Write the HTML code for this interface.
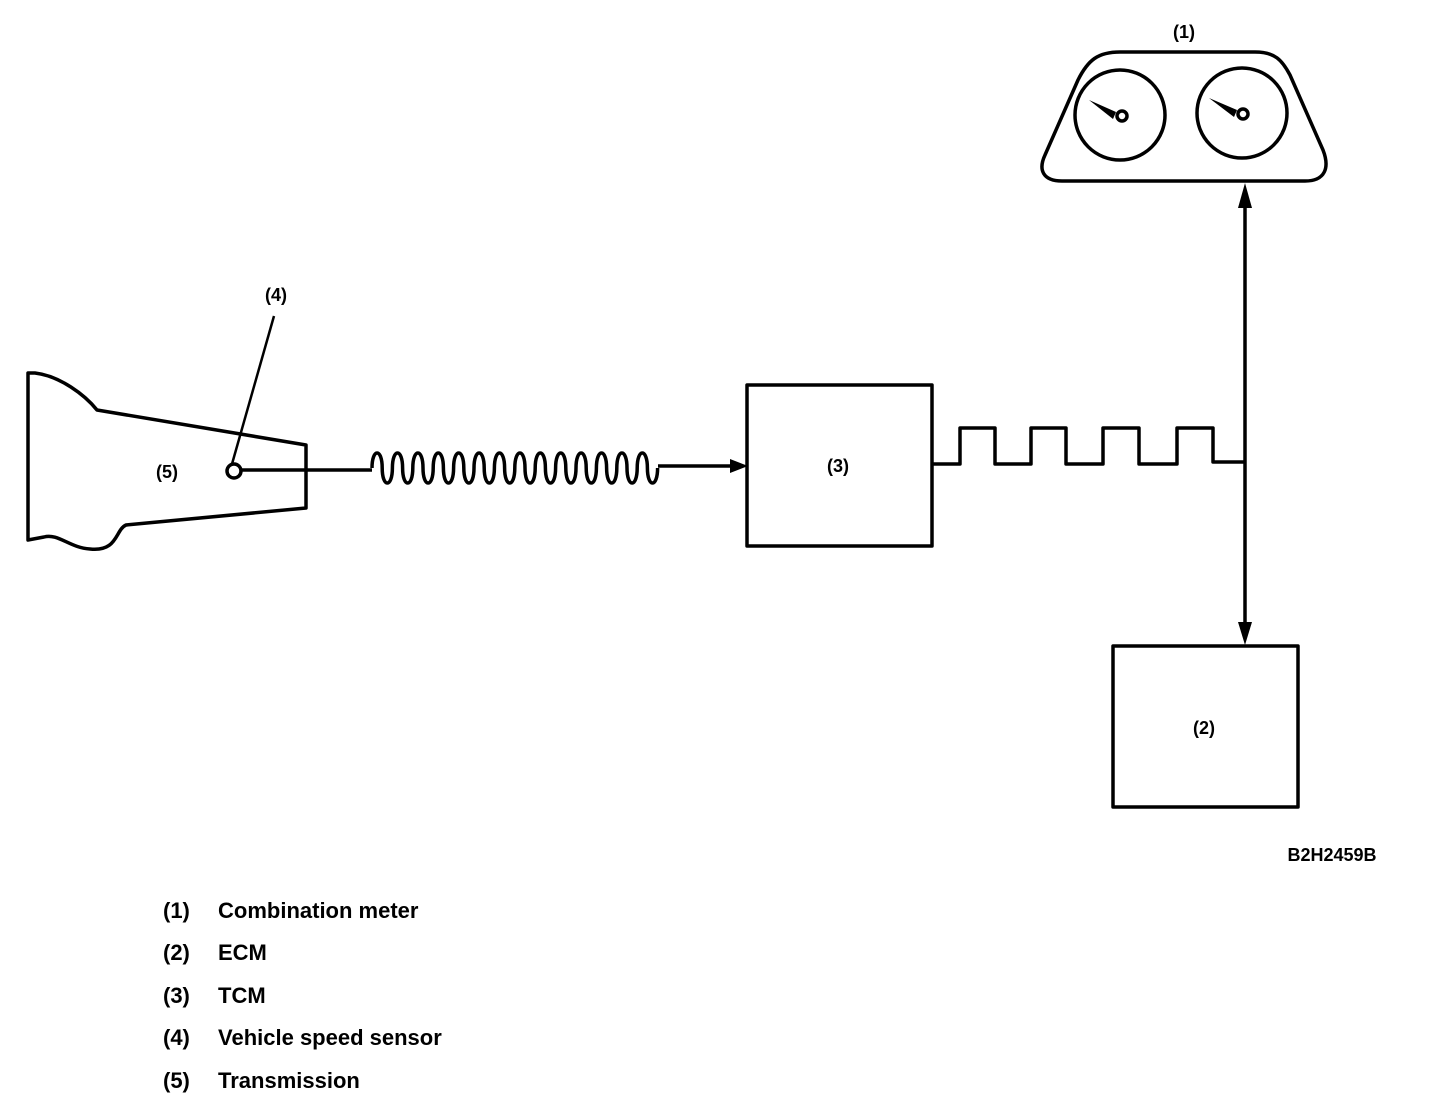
<!DOCTYPE html>
<html><head><meta charset="utf-8"><style>
html,body{margin:0;padding:0;background:#fff}
svg{display:block}
text{font-family:"Liberation Sans",Arial,sans-serif;font-weight:bold;fill:#000}
</style></head><body>
<svg width="1456" height="1114" viewBox="0 0 1456 1114" xmlns="http://www.w3.org/2000/svg">
<g fill="none" stroke="#000" stroke-width="3.5" stroke-linejoin="round">
<path d="M28,373 L35,373 C60,376 85,395 97,410 L306,445 L306,508 L126,525 C115,530 118,552 90,549 C70,548 58,533 44,537 L28,540 Z"/>
<line x1="274" y1="316" x2="232" y2="464" stroke-width="2.5"/>
<circle cx="234" cy="471" r="7" fill="#fff"/>
<line x1="241" y1="470" x2="372" y2="470"/>
<path d="M372,468 c0,-20 10.2,-20 10.2,0 c0,20 10.2,20 10.2,0 c0,-20 10.2,-20 10.2,0 c0,20 10.2,20 10.2,0 c0,-20 10.2,-20 10.2,0 c0,20 10.2,20 10.2,0 c0,-20 10.2,-20 10.2,0 c0,20 10.2,20 10.2,0 c0,-20 10.2,-20 10.2,0 c0,20 10.2,20 10.2,0 c0,-20 10.2,-20 10.2,0 c0,20 10.2,20 10.2,0 c0,-20 10.2,-20 10.2,0 c0,20 10.2,20 10.2,0 c0,-20 10.2,-20 10.2,0 c0,20 10.2,20 10.2,0 c0,-20 10.2,-20 10.2,0 c0,20 10.2,20 10.2,0 c0,-20 10.2,-20 10.2,0 c0,20 10.2,20 10.2,0 c0,-20 10.2,-20 10.2,0 c0,20 10.2,20 10.2,0 c0,-20 10.2,-20 10.2,0 c0,20 10.2,20 10.2,0 c0,-20 10.2,-20 10.2,0 c0,20 10.2,20 10.2,0 c0,-20 10.2,-20 10.2,0 c0,20 10.2,20 10.2,0"/>
<line x1="658" y1="466" x2="730" y2="466"/>
<rect x="747" y="385" width="185" height="161"/>
<path d="M932,464 L960,464 L960,428 L995,428 L995,464 L1031,464 L1031,428 L1066,428 L1066,464 L1103,464 L1103,428 L1139,428 L1139,464 L1177,464 L1177,428 L1213,428 L1213,462 L1245,462"/>
<line x1="1245" y1="205" x2="1245" y2="625"/>
<rect x="1113" y="646" width="185" height="161"/>
<path d="M1120,52 L1255,52 C1275,52 1282,60 1290,75 L1323,150 C1330,168 1325,181 1305,181 L1062,181 C1043,181 1038,170 1045,155 L1078,80 C1088,60 1098,52 1120,52 Z"/>
<circle cx="1120" cy="115" r="45"/>
<circle cx="1242" cy="113" r="45"/>
<circle cx="1122" cy="116" r="5"/>
<circle cx="1243" cy="114" r="5"/>
</g>
<g fill="#000">
<path d="M1089,100 L1116,112 L1113,119 Z"/>
<path d="M1209,98 L1237,110 L1234,117 Z"/>
<polygon points="730,459 748,466 730,473"/>
<polygon points="1238,208 1245,183 1252,208"/>
<polygon points="1238,622 1245,645 1252,622"/>
</g>
<text x="1184" y="38" font-size="18" text-anchor="middle">(1)</text>
<text x="276" y="301" font-size="18" text-anchor="middle">(4)</text>
<text x="167" y="478" font-size="18" text-anchor="middle">(5)</text>
<text x="838" y="472" font-size="18" text-anchor="middle">(3)</text>
<text x="1204" y="734" font-size="18" text-anchor="middle">(2)</text>
<text x="1332" y="861" font-size="18" text-anchor="middle">B2H2459B</text>
<g font-size="22">
<text x="163" y="918">(1)</text><text x="218" y="918">Combination meter</text>
<text x="163" y="960">(2)</text><text x="218" y="960">ECM</text>
<text x="163" y="1003">(3)</text><text x="218" y="1003">TCM</text>
<text x="163" y="1045">(4)</text><text x="218" y="1045">Vehicle speed sensor</text>
<text x="163" y="1088">(5)</text><text x="218" y="1088">Transmission</text>
</g>
</svg>
</body></html>
